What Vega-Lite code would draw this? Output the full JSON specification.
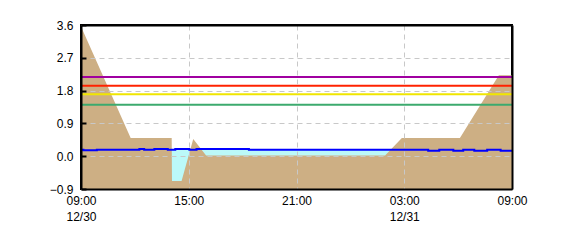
{
  "$schema": "https://vega.github.io/schema/vega-lite/v6.json",
  "width": 431,
  "height": 164,
  "autosize": {"type": "none"},
  "padding": {"left": 81, "top": 25, "right": 58, "bottom": 61},
  "background": "white",
  "config": {
    "view": {"stroke": "black", "strokeWidth": 2},
    "font": "Liberation Sans",
    "axis": {"labelFont": "Liberation Sans", "labelFontSize": 12, "labelColor": "black"}
  },
  "resolve": {"axis": {"x": "independent", "y": "independent"}},
  "datasets": {
    "ground": [
      {"t": "2023-12-30T09:00:00", "v": 3.56},
      {"t": "2023-12-30T11:46:00", "v": 0.5},
      {"t": "2023-12-30T14:03:00", "v": 0.5},
      {"t": "2023-12-30T14:04:00", "v": -0.68},
      {"t": "2023-12-30T14:36:00", "v": -0.68},
      {"t": "2023-12-30T15:15:00", "v": 0.47},
      {"t": "2023-12-30T15:58:00", "v": 0.02},
      {"t": "2023-12-31T01:56:00", "v": 0.02},
      {"t": "2023-12-31T02:52:00", "v": 0.5},
      {"t": "2023-12-31T06:06:00", "v": 0.5},
      {"t": "2023-12-31T08:16:00", "v": 2.22},
      {"t": "2023-12-31T09:00:00", "v": 2.22}
    ],
    "level": [
      {"t": "2023-12-30T09:00:00", "v": 0.18},
      {"t": "2023-12-30T09:08:00", "v": 0.16},
      {"t": "2023-12-30T09:53:00", "v": 0.18},
      {"t": "2023-12-30T12:15:00", "v": 0.2},
      {"t": "2023-12-30T12:31:00", "v": 0.18},
      {"t": "2023-12-30T13:05:00", "v": 0.2},
      {"t": "2023-12-30T13:50:00", "v": 0.18},
      {"t": "2023-12-30T14:15:00", "v": 0.2},
      {"t": "2023-12-30T15:02:00", "v": 0.18},
      {"t": "2023-12-30T15:26:00", "v": 0.2},
      {"t": "2023-12-30T18:21:00", "v": 0.18},
      {"t": "2023-12-31T04:20:00", "v": 0.15},
      {"t": "2023-12-31T04:57:00", "v": 0.18},
      {"t": "2023-12-31T05:44:00", "v": 0.15},
      {"t": "2023-12-31T06:17:00", "v": 0.18},
      {"t": "2023-12-31T06:54:00", "v": 0.15},
      {"t": "2023-12-31T07:37:00", "v": 0.18},
      {"t": "2023-12-31T08:22:00", "v": 0.15},
      {"t": "2023-12-31T09:00:00", "v": 0.15}
    ],
    "thresholds": [
      {"name": "L1", "v": 2.17},
      {"name": "L2", "v": 1.93},
      {"name": "L3", "v": 1.7},
      {"name": "L4", "v": 1.41}
    ]
  },
  "layer": [
    {
      "data": {"name": "level"},
      "mark": {"type": "area", "interpolate": "step-after", "color": "#BBF9F9"},
      "encoding": {
        "x": {
          "field": "t", "type": "temporal",
          "scale": {"domain": [{"year": 2023, "month": 12, "date": 30, "hours": 9}, {"year": 2023, "month": 12, "date": 31, "hours": 9}]},
          "axis": {
            "title": null,
            "values": [
              {"year": 2023, "month": 12, "date": 30, "hours": 9},
              {"year": 2023, "month": 12, "date": 30, "hours": 15},
              {"year": 2023, "month": 12, "date": 30, "hours": 21},
              {"year": 2023, "month": 12, "date": 31, "hours": 3},
              {"year": 2023, "month": 12, "date": 31, "hours": 9}
            ],
            "tickCount": 20,
            "labelExpr": "[timeFormat(datum.value, '%H:%M'), (hours(datum.value) == 9 && date(datum.value) == 30) || hours(datum.value) == 3 ? timeFormat(datum.value, '%m/%d') : '']",
            "labelAlign": "center",
            "labelBaseline": "top",
            "labelLineHeight": 16,
            "labelPadding": 6,
            "labelFlush": false,
            "labelOverlap": false,
            "ticks": false,
            "domain": true,
            "domainColor": "black",
            "domainWidth": 2,
            "grid": true,
            "gridColor": "#C8C8C8",
            "gridDash": [5, 4],
            "gridWidth": 1,
            "zindex": 1
          }
        },
        "y": {
          "field": "v", "type": "quantitative",
          "scale": {"domain": [-0.9, 3.6], "nice": false, "zero": false},
          "axis": {
            "title": null,
            "values": [-0.9, 0, 0.9, 1.8, 2.7, 3.6],
            "tickCount": 20,
            "format": ".1f",
            "tickSize": -5,
            "tickWidth": 2,
            "tickColor": "black",
            "labelPadding": 13,
            "labelOverlap": false,
            "labelBound": false,
            "labelFlush": false,
            "domain": true,
            "domainColor": "black",
            "domainWidth": 2,
            "grid": true,
            "gridColor": "#C8C8C8",
            "gridDash": [5, 4],
            "gridWidth": 1,
            "zindex": 1
          }
        },
        "y2": {"datum": -0.9}
      }
    },
    {
      "data": {"name": "ground"},
      "mark": {"type": "area", "color": "#CDAF84"},
      "encoding": {
        "x": {"field": "t", "type": "temporal", "axis": null},
        "y": {"field": "v", "type": "quantitative", "axis": null},
        "y2": {"datum": -0.9}
      }
    },
    {
      "data": {"name": "thresholds"},
      "mark": {"type": "rule", "strokeWidth": 2},
      "encoding": {
        "y": {"field": "v", "type": "quantitative", "axis": null},
        "color": {
          "field": "name", "type": "nominal",
          "scale": {"domain": ["L1", "L2", "L3", "L4"], "range": ["#A000A0", "#FF2200", "#F0E600", "#3CAA6E"]},
          "legend": null
        }
      }
    },
    {
      "data": {"name": "level"},
      "mark": {"type": "line", "interpolate": "step-after", "color": "#0000FF", "strokeWidth": 2},
      "encoding": {
        "x": {"field": "t", "type": "temporal", "axis": null},
        "y": {"field": "v", "type": "quantitative", "axis": null}
      }
    },
    {
      "data": {"name": "ground"},
      "mark": {"type": "line", "opacity": 0},
      "encoding": {
        "x": {"field": "t", "type": "temporal", "axis": {"orient": "top", "title": null, "labels": false, "ticks": false, "grid": false, "domain": true, "domainColor": "black", "domainWidth": 2, "zindex": 2}},
        "y": {"field": "v", "type": "quantitative", "axis": {"orient": "right", "title": null, "labels": false, "ticks": false, "grid": false, "domain": true, "domainColor": "black", "domainWidth": 2, "zindex": 2}}
      }
    }
  ]
}
